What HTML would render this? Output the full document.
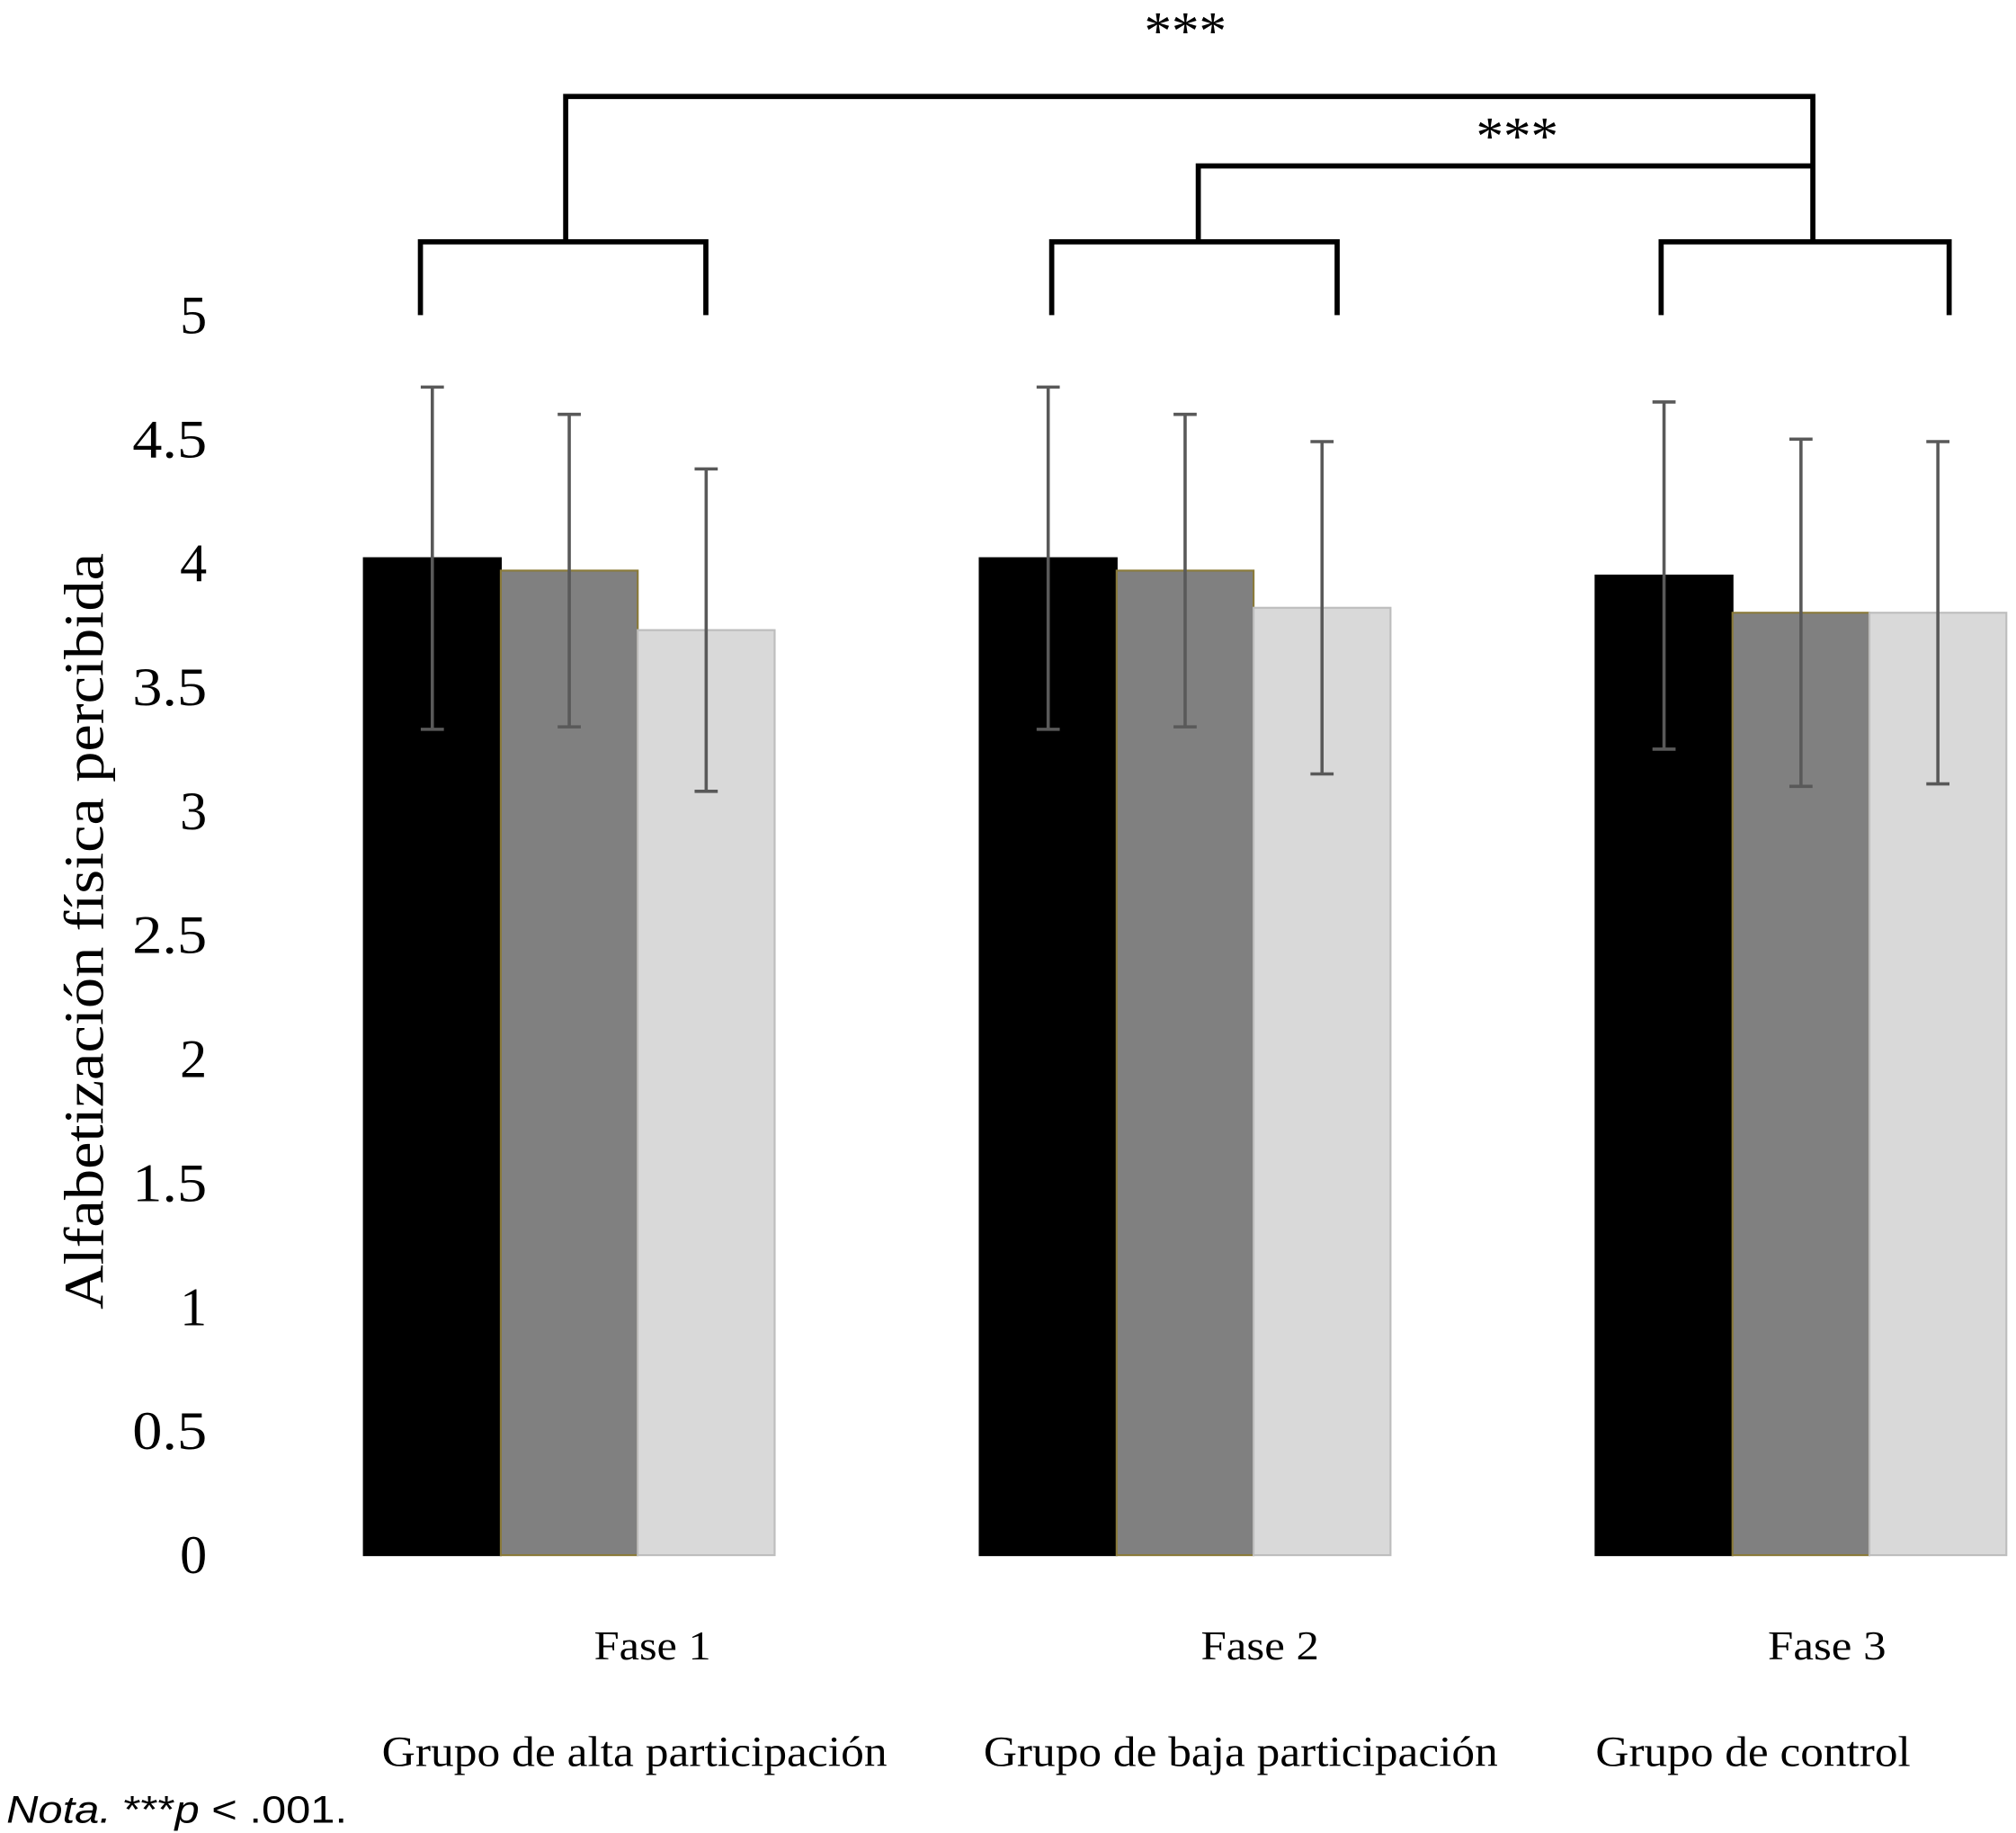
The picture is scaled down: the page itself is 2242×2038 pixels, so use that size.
<!DOCTYPE html>
<html><head><meta charset="utf-8"><style>
html,body{margin:0;padding:0;background:#fff;}
svg{display:block;}
</style></head><body>
<svg id="chart" width="2242" height="2038" viewBox="0 0 1568 1425" preserveAspectRatio="none" xmlns="http://www.w3.org/2000/svg">
<g id="brackets" stroke="#000" stroke-width="4" fill="none">
<path d="M327,245 V188 H549 V245"/>
<path d="M818,245 V188 H1040 V245"/>
<path d="M1292,245 V188 H1516 V245"/>
<path d="M440,188 V75 H1410 V188"/>
<path d="M932,188 V129 H1410"/>
</g>
<text x="922" y="38" font-family="Liberation Serif, serif" font-size="42" text-anchor="middle" textLength="64" lengthAdjust="spacingAndGlyphs">***</text>
<text x="1180" y="120" font-family="Liberation Serif, serif" font-size="42" text-anchor="middle" textLength="64" lengthAdjust="spacingAndGlyphs">***</text>
<g id="yaxis"></g>
<g id="bars"></g>
<text transform="translate(80,724) rotate(-90)" font-family="Liberation Serif, serif" font-size="44" text-anchor="middle" textLength="588" lengthAdjust="spacingAndGlyphs">Alfabetización física percibida</text>
<g font-family="Liberation Serif, serif" font-size="32">
<text x="462" y="1290" textLength="91" lengthAdjust="spacingAndGlyphs">Fase 1</text>
<text x="934" y="1290" textLength="92" lengthAdjust="spacingAndGlyphs">Fase 2</text>
<text x="1375" y="1290" textLength="92" lengthAdjust="spacingAndGlyphs">Fase 3</text>
<text x="297" y="1373" font-size="33" textLength="393" lengthAdjust="spacingAndGlyphs">Grupo de alta participación</text>
<text x="765" y="1373" font-size="33" textLength="400" lengthAdjust="spacingAndGlyphs">Grupo de baja participación</text>
<text x="1241" y="1373" font-size="33" textLength="245" lengthAdjust="spacingAndGlyphs">Grupo de control</text>
</g>
<text x="5" y="1417" font-family="Liberation Sans, sans-serif" font-size="30" textLength="265" lengthAdjust="spacingAndGlyphs"><tspan font-style="italic">Nota.</tspan> ***<tspan font-style="italic">p</tspan> &lt; .001.</text>
</svg>
<script>
const groups = ["Fase 1", "Fase 2", "Fase 3"];
const series1 = [4.02, 4.02, 3.95];
const series2 = [3.97, 3.97, 3.80];
const series3 = [3.73, 3.82, 3.80];
const err1 = [0.69, 0.69, 0.70];
const err2 = [0.63, 0.63, 0.70];
const err3 = [0.65, 0.67, 0.69];
const yTicks = ["0","0.5","1","1.5","2","2.5","3","3.5","4","4.5","5"];

const NS = "http://www.w3.org/2000/svg";
const y0 = 1209, y5 = 245;
function yScale(v){ return y0 - (y0 - y5) * v / 5; }
const groupStart = [283, 762, 1241];
const barW = 106.5;
function xScale(g, s){ return groupStart[g] + s * barW; }
const series = [series1, series2, series3];
const errs = [err1, err2, err3];
const fills = ["#000000", "#808080", "#d9d9d9"];
const strokes = ["#000000", "#8a7a3a", "#bdbdbd"];

const yaxis = document.getElementById('yaxis');
yTicks.forEach(t => {
  const el = document.createElementNS(NS, 'text');
  
  
  el.setAttribute('x', 161);
  el.setAttribute('y', yScale(parseFloat(t)) + 14);
  el.setAttribute('text-anchor', 'end');
  el.setAttribute('font-family', 'Liberation Serif, serif');
  el.setAttribute('font-size', '42');
  if (t.length === 3) { el.setAttribute('textLength', '58'); el.setAttribute('lengthAdjust', 'spacingAndGlyphs'); }
  el.textContent = t;
  yaxis.appendChild(el);
});

const bars = document.getElementById('bars');
groups.forEach((g, gi) => {
  series.forEach((s, si) => {
    const x = xScale(gi, si);
    const v = s[gi];
    const r = document.createElementNS(NS, 'rect');
    
    
    r.setAttribute('x', x);
    r.setAttribute('y', yScale(v));
    r.setAttribute('width', barW);
    r.setAttribute('height', yScale(0) - yScale(v));
    r.setAttribute('fill', fills[si]);
    r.setAttribute('stroke', strokes[si]);
    r.setAttribute('stroke-width', '1.5');
    bars.appendChild(r);
  });
});
groups.forEach((g, gi) => {
  series.forEach((s, si) => {
    const cx = xScale(gi, si) + barW / 2;
    const v = s[gi], e = errs[si][gi];
    const p = document.createElementNS(NS, 'path');
    
    
    const t = yScale(v + e), b = yScale(v - e);
    p.setAttribute('d', `M${cx},${t} V${b} M${cx-9},${t} H${cx+9} M${cx-9},${b} H${cx+9}`);
    p.setAttribute('stroke', '#595959');
    p.setAttribute('stroke-width', '2.5');
    p.setAttribute('fill', 'none');
    bars.appendChild(p);
  });
});
</script>
</body></html>
